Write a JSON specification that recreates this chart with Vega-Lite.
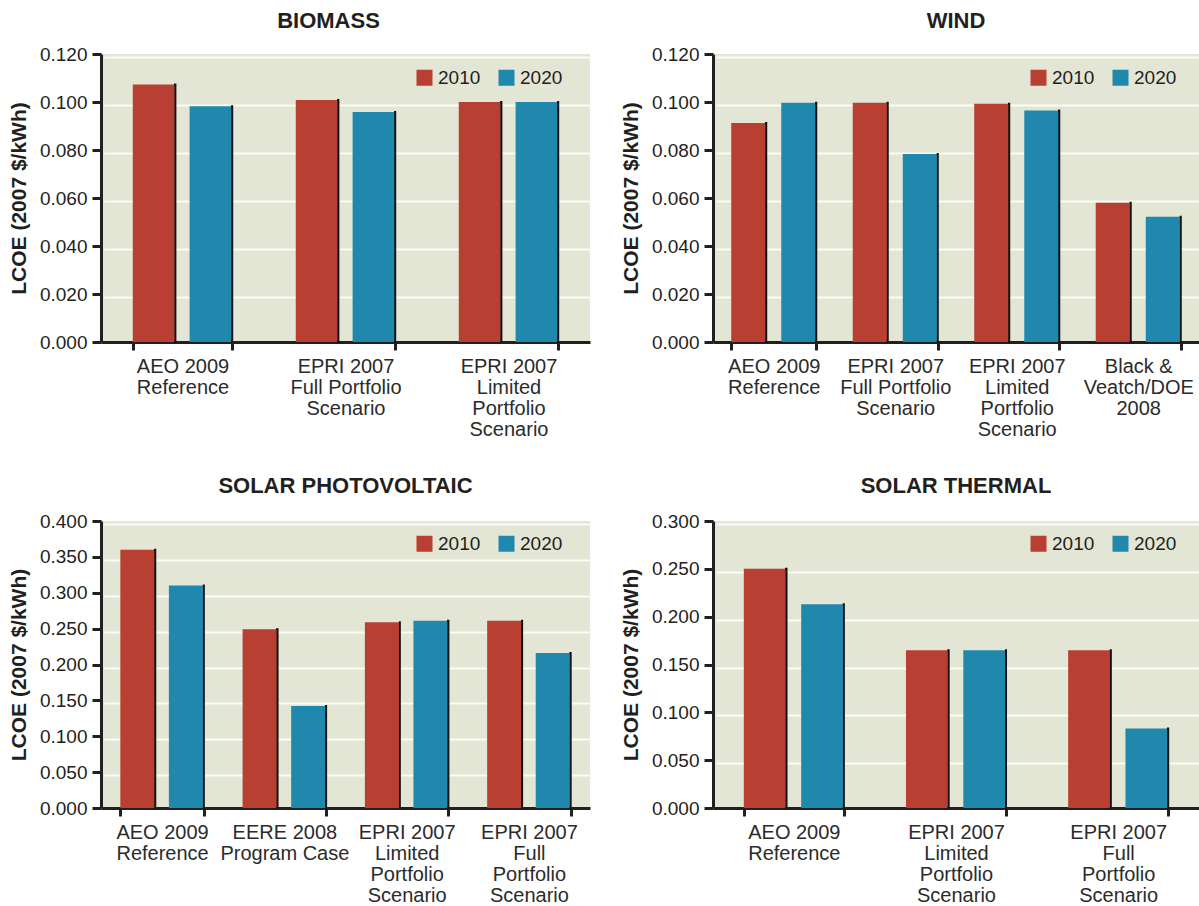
{
  "$schema": "https://vega.github.io/schema/vega-lite/v6.json",
  "padding": {"left": 8, "top": 10, "right": 0, "bottom": 0},
  "data": {"values": [
    {"panel": "BIOMASS", "source": "AEO 2009|Reference", "year": "2010", "lcoe": 0.1073},
    {"panel": "BIOMASS", "source": "AEO 2009|Reference", "year": "2020", "lcoe": 0.0982},
    {"panel": "BIOMASS", "source": "EPRI 2007|Full Portfolio|Scenario", "year": "2010", "lcoe": 0.1008},
    {"panel": "BIOMASS", "source": "EPRI 2007|Full Portfolio|Scenario", "year": "2020", "lcoe": 0.0958},
    {"panel": "BIOMASS", "source": "EPRI 2007|Limited|Portfolio|Scenario", "year": "2010", "lcoe": 0.1},
    {"panel": "BIOMASS", "source": "EPRI 2007|Limited|Portfolio|Scenario", "year": "2020", "lcoe": 0.1},
    {"panel": "WIND", "source": "AEO 2009|Reference", "year": "2010", "lcoe": 0.0913},
    {"panel": "WIND", "source": "AEO 2009|Reference", "year": "2020", "lcoe": 0.0997},
    {"panel": "WIND", "source": "EPRI 2007|Full Portfolio|Scenario", "year": "2010", "lcoe": 0.0997},
    {"panel": "WIND", "source": "EPRI 2007|Full Portfolio|Scenario", "year": "2020", "lcoe": 0.0783},
    {"panel": "WIND", "source": "EPRI 2007|Limited|Portfolio|Scenario", "year": "2010", "lcoe": 0.0993},
    {"panel": "WIND", "source": "EPRI 2007|Limited|Portfolio|Scenario", "year": "2020", "lcoe": 0.0965},
    {"panel": "WIND", "source": "Black &|Veatch/DOE|2008", "year": "2010", "lcoe": 0.058},
    {"panel": "WIND", "source": "Black &|Veatch/DOE|2008", "year": "2020", "lcoe": 0.0522},
    {"panel": "SOLAR PHOTOVOLTAIC", "source": "AEO 2009|Reference", "year": "2010", "lcoe": 0.36},
    {"panel": "SOLAR PHOTOVOLTAIC", "source": "AEO 2009|Reference", "year": "2020", "lcoe": 0.31},
    {"panel": "SOLAR PHOTOVOLTAIC", "source": "EERE 2008|Program Case", "year": "2010", "lcoe": 0.249},
    {"panel": "SOLAR PHOTOVOLTAIC", "source": "EERE 2008|Program Case", "year": "2020", "lcoe": 0.142},
    {"panel": "SOLAR PHOTOVOLTAIC", "source": "EPRI 2007|Limited|Portfolio|Scenario", "year": "2010", "lcoe": 0.259},
    {"panel": "SOLAR PHOTOVOLTAIC", "source": "EPRI 2007|Limited|Portfolio|Scenario", "year": "2020", "lcoe": 0.261},
    {"panel": "SOLAR PHOTOVOLTAIC", "source": "EPRI 2007|Full|Portfolio|Scenario", "year": "2010", "lcoe": 0.261},
    {"panel": "SOLAR PHOTOVOLTAIC", "source": "EPRI 2007|Full|Portfolio|Scenario", "year": "2020", "lcoe": 0.216},
    {"panel": "SOLAR THERMAL", "source": "AEO 2009|Reference", "year": "2010", "lcoe": 0.25},
    {"panel": "SOLAR THERMAL", "source": "AEO 2009|Reference", "year": "2020", "lcoe": 0.213},
    {"panel": "SOLAR THERMAL", "source": "EPRI 2007|Limited|Portfolio|Scenario", "year": "2010", "lcoe": 0.165},
    {"panel": "SOLAR THERMAL", "source": "EPRI 2007|Limited|Portfolio|Scenario", "year": "2020", "lcoe": 0.165},
    {"panel": "SOLAR THERMAL", "source": "EPRI 2007|Full|Portfolio|Scenario", "year": "2010", "lcoe": 0.165},
    {"panel": "SOLAR THERMAL", "source": "EPRI 2007|Full|Portfolio|Scenario", "year": "2020", "lcoe": 0.083}
  ]},
  "vconcat": [
    {
      "hconcat": [
        {
          "title": {"text": "BIOMASS", "dx": -17, "offset": 12},
          "width": 489, "height": 288,
          "transform": [{"filter": "datum.panel === 'BIOMASS'"}],
          "encoding": {
            "x": {"field": "source", "type": "nominal", "sort": null, "title": null, "scale": {"paddingInner": 0.39, "paddingOuter": 0.195}},
            "xOffset": {"field": "year", "type": "nominal", "scale": {"paddingInner": 0.25}},
            "y": {"field": "lcoe", "type": "quantitative", "scale": {"domain": [0, 0.12]}}
          },
          "layer": [
            {"mark": {"type": "bar", "opacity": 0},
             "encoding": {"y": {"field": "lcoe", "type": "quantitative", "axis": {"orient": "left", "values": [0.02, 0.04, 0.06, 0.08, 0.1, 0.12], "labels": false, "ticks": false, "domain": false, "title": null, "grid": true, "gridColor": "#fbfcf6", "gridWidth": 2, "translate": 3.5}}}},
            {"mark": {"type": "bar"},
             "encoding": {
               "y": {"field": "lcoe", "type": "quantitative", "axis": {"orient": "left", "values": [0, 0.02, 0.04, 0.06, 0.08, 0.1, 0.12], "format": ".3f", "title": "LCOE (2007 $/kWh)"}},
               "color": {"field": "year", "type": "nominal", "scale": {"domain": ["2010", "2020"], "range": ["#b83f31", "#2188ad"]}, "legend": {"legendX": 314, "legendY": 14}}
             }},
            {"mark": {"type": "bar", "fillOpacity": 0, "strokeWidth": 2, "stroke": {"gradient": "linear", "x1": 0, "x2": 1, "y1": 0, "y2": 0, "stops": [{"offset": 0, "color": "rgba(20,20,20,0)"}, {"offset": 0.965, "color": "rgba(20,20,20,0)"}, {"offset": 0.975, "color": "#141414"}, {"offset": 1, "color": "#141414"}]}},
             "encoding": {"y": {"field": "lcoe", "type": "quantitative", "axis": null}}}
          ],
          "resolve": {"axis": {"y": "independent"}}
        },
        {
          "title": {"text": "WIND", "offset": 12},
          "width": 486, "height": 288,
          "transform": [{"filter": "datum.panel === 'WIND'"}],
          "encoding": {
            "x": {"field": "source", "type": "nominal", "sort": null, "title": null, "scale": {"paddingInner": 0.3, "paddingOuter": 0.15}},
            "xOffset": {"field": "year", "type": "nominal", "scale": {"paddingInner": 0.3}},
            "y": {"field": "lcoe", "type": "quantitative", "scale": {"domain": [0, 0.12]}}
          },
          "layer": [
            {"mark": {"type": "bar", "opacity": 0},
             "encoding": {"y": {"field": "lcoe", "type": "quantitative", "axis": {"orient": "left", "values": [0.02, 0.04, 0.06, 0.08, 0.1, 0.12], "labels": false, "ticks": false, "domain": false, "title": null, "grid": true, "gridColor": "#fbfcf6", "gridWidth": 2, "translate": 3.5}}}},
            {"mark": {"type": "bar"},
             "encoding": {
               "y": {"field": "lcoe", "type": "quantitative", "axis": {"orient": "left", "values": [0, 0.02, 0.04, 0.06, 0.08, 0.1, 0.12], "format": ".3f", "title": "LCOE (2007 $/kWh)"}},
               "color": {"field": "year", "type": "nominal", "scale": {"domain": ["2010", "2020"], "range": ["#b83f31", "#2188ad"]}, "legend": {"legendX": 316, "legendY": 14}}
             }},
            {"mark": {"type": "bar", "fillOpacity": 0, "strokeWidth": 2, "stroke": {"gradient": "linear", "x1": 0, "x2": 1, "y1": 0, "y2": 0, "stops": [{"offset": 0, "color": "rgba(20,20,20,0)"}, {"offset": 0.96, "color": "rgba(20,20,20,0)"}, {"offset": 0.97, "color": "#141414"}, {"offset": 1, "color": "#141414"}]}},
             "encoding": {"y": {"field": "lcoe", "type": "quantitative", "axis": null}}}
          ],
          "resolve": {"axis": {"y": "independent"}}
        }
      ],
      "spacing": 30,
      "resolve": {"scale": {"x": "independent", "y": "independent", "xOffset": "independent", "color": "independent"}, "legend": {"color": "independent"}}
    },
    {
      "hconcat": [
        {
          "title": {"text": "SOLAR PHOTOVOLTAIC", "offset": 14},
          "width": 489, "height": 287,
          "transform": [{"filter": "datum.panel === 'SOLAR PHOTOVOLTAIC'"}],
          "encoding": {
            "x": {"field": "source", "type": "nominal", "sort": null, "title": null, "scale": {"paddingInner": 0.317, "paddingOuter": 0.158}},
            "xOffset": {"field": "year", "type": "nominal", "scale": {"paddingInner": 0.28}},
            "y": {"field": "lcoe", "type": "quantitative", "scale": {"domain": [0, 0.4]}}
          },
          "layer": [
            {"mark": {"type": "bar", "opacity": 0},
             "encoding": {"y": {"field": "lcoe", "type": "quantitative", "axis": {"orient": "left", "values": [0.05, 0.1, 0.15, 0.2, 0.25, 0.3, 0.35, 0.4], "labels": false, "ticks": false, "domain": false, "title": null, "grid": true, "gridColor": "#fbfcf6", "gridWidth": 2, "translate": 3.5}}}},
            {"mark": {"type": "bar"},
             "encoding": {
               "y": {"field": "lcoe", "type": "quantitative", "axis": {"orient": "left", "values": [0, 0.05, 0.1, 0.15, 0.2, 0.25, 0.3, 0.35, 0.4], "format": ".3f", "title": "LCOE (2007 $/kWh)"}},
               "color": {"field": "year", "type": "nominal", "scale": {"domain": ["2010", "2020"], "range": ["#b83f31", "#2188ad"]}, "legend": {"legendX": 314, "legendY": 13}}
             }},
            {"mark": {"type": "bar", "fillOpacity": 0, "strokeWidth": 2, "stroke": {"gradient": "linear", "x1": 0, "x2": 1, "y1": 0, "y2": 0, "stops": [{"offset": 0, "color": "rgba(20,20,20,0)"}, {"offset": 0.96, "color": "rgba(20,20,20,0)"}, {"offset": 0.97, "color": "#141414"}, {"offset": 1, "color": "#141414"}]}},
             "encoding": {"y": {"field": "lcoe", "type": "quantitative", "axis": null}}}
          ],
          "resolve": {"axis": {"y": "independent"}}
        },
        {
          "title": {"text": "SOLAR THERMAL", "offset": 14},
          "width": 486, "height": 287,
          "transform": [{"filter": "datum.panel === 'SOLAR THERMAL'"}],
          "encoding": {
            "x": {"field": "source", "type": "nominal", "sort": null, "title": null, "scale": {"paddingInner": 0.383, "paddingOuter": 0.19}},
            "xOffset": {"field": "year", "type": "nominal", "scale": {"paddingInner": 0.255}},
            "y": {"field": "lcoe", "type": "quantitative", "scale": {"domain": [0, 0.3]}}
          },
          "layer": [
            {"mark": {"type": "bar", "opacity": 0},
             "encoding": {"y": {"field": "lcoe", "type": "quantitative", "axis": {"orient": "left", "values": [0.05, 0.1, 0.15, 0.2, 0.25, 0.3], "labels": false, "ticks": false, "domain": false, "title": null, "grid": true, "gridColor": "#fbfcf6", "gridWidth": 2, "translate": 3.5}}}},
            {"mark": {"type": "bar"},
             "encoding": {
               "y": {"field": "lcoe", "type": "quantitative", "axis": {"orient": "left", "values": [0, 0.05, 0.1, 0.15, 0.2, 0.25, 0.3], "format": ".3f", "title": "LCOE (2007 $/kWh)"}},
               "color": {"field": "year", "type": "nominal", "scale": {"domain": ["2010", "2020"], "range": ["#b83f31", "#2188ad"]}, "legend": {"legendX": 316, "legendY": 13}}
             }},
            {"mark": {"type": "bar", "fillOpacity": 0, "strokeWidth": 2, "stroke": {"gradient": "linear", "x1": 0, "x2": 1, "y1": 0, "y2": 0, "stops": [{"offset": 0, "color": "rgba(20,20,20,0)"}, {"offset": 0.965, "color": "rgba(20,20,20,0)"}, {"offset": 0.975, "color": "#141414"}, {"offset": 1, "color": "#141414"}]}},
             "encoding": {"y": {"field": "lcoe", "type": "quantitative", "axis": null}}}
          ],
          "resolve": {"axis": {"y": "independent"}}
        }
      ],
      "spacing": 30,
      "resolve": {"scale": {"x": "independent", "y": "independent", "xOffset": "independent", "color": "independent"}, "legend": {"color": "independent"}}
    }
  ],
  "spacing": 36,
  "resolve": {"scale": {"x": "independent", "y": "independent", "xOffset": "independent", "color": "independent"}, "legend": {"color": "independent"}},
  "config": {
    "font": "Liberation Sans",
    "view": {"stroke": null, "fill": "#e3e6d5"},
    "title": {"fontSize": 22, "fontWeight": "bold", "color": "#231f20", "anchor": "middle"},
    "axis": {"labelColor": "#231f20", "labelFontSize": 19, "domainColor": "#231f20", "domainWidth": 3, "tickColor": "#231f20", "tickWidth": 3, "titleColor": "#231f20"},
    "axisY": {"tickSize": 9, "labelPadding": 5, "titleFontSize": 21, "titleFontWeight": "bold", "titlePadding": 10, "gridColor": "#a9ae9f", "gridWidth": 3, "gridOpacity": 1},
    "axisX": {"labelExpr": "split(datum.label, '|')", "labelAngle": 0, "labelFontSize": 20, "labelColor": "#2b2b2b", "labelLineHeight": 21, "labelPadding": 6, "labelBaseline": "top", "tickBand": "extent", "tickSize": 8, "labelLimit": 0, "zindex": 1, "grid": false},
    "legend": {"orient": "none", "direction": "horizontal", "title": null, "symbolType": "square", "symbolSize": 256, "symbolStrokeWidth": 0, "symbolOpacity": 1, "labelFontSize": 19, "labelColor": "#231f20", "columnPadding": 16, "labelOffset": 4}
  }
}
